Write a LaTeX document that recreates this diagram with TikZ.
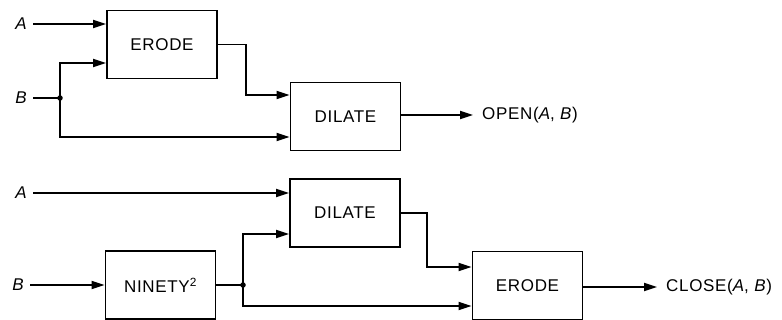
\documentclass[tikz,border=0pt]{standalone}
\usepackage{fontspec}
\setmainfont{Liberation Sans}
\usetikzlibrary{arrows.meta,calc}
\newcommand{\blkfont}{\fontsize{17}{20}\selectfont\addfontfeature{LetterSpace=4}}
\tikzset{
  blk/.style={draw, line width=1.9pt, minimum width=110pt, minimum height=68pt, inner sep=0pt, font=\blkfont},
  inlab/.style={anchor=east, inner xsep=6pt, inner ysep=0pt, font=\fontsize{17}{20}\selectfont\itshape},
  outlab/.style={anchor=west, inner xsep=9pt, inner ysep=0pt, font=\blkfont},
  wire/.style={line width=1.9pt},
  arr/.style={wire, -{Triangle[length=13pt,width=8pt]}},
  jdot/.style={circle, fill, inner sep=0pt, minimum size=5.5pt}
}
\begin{document}
\begin{tikzpicture}[x=1pt,y=-1pt]
\useasboundingbox (0,0) rectangle (782,320);
% top diagram
\node[inlab] (a1) at (33,24) {A};
\node[inlab] (b1) at (33,98) {B};
\node[blk] (erode1) at (162,44.5) {ERODE};
\node[blk] (dilate1) at (345.5,116.5) {DILATE};
\node[outlab] (open) at (473,115) {OPEN(\textit{A}, \textit{B})};
\coordinate (j1) at (60,98);
\node[jdot] (d1) at (j1) {};
\draw[arr] (a1.east) -- (erode1.west |- a1);
\draw[wire] (b1.east) -- (j1);
\draw[arr] (j1) |- ($(erode1.west)+(0,18.5)$);
\draw[arr] (j1) |- ($(dilate1.west)+(0,20.5)$);
\draw[arr] (erode1.east) -- ++(28,0) |- ($(dilate1.west)+(0,-21.5)$);
\draw[arr] (dilate1.east |- open) -- (open.west);
% bottom diagram
\node[inlab] (a2) at (33,193) {A};
\node[inlab] (b2) at (30,285) {B};
\node[blk] (dilate2) at (345,213) {DILATE};
\node[blk] (ninety) at (160.5,285) {NINETY\textsuperscript{2}};
\node[blk] (erode2) at (527.5,285.5) {ERODE};
\node[outlab] (close) at (657,287) {CLOSE(\textit{A}, \textit{B})};
\coordinate (j2) at (243,285);
\node[jdot] (d2) at (j2) {};
\draw[arr] (a2.east) -- (dilate2.west |- a2);
\draw[arr] (b2.east) -- (ninety.west |- b2);
\draw[wire] (ninety.east |- j2) -- (j2);
\draw[arr] (j2) |- ($(dilate2.west)+(0,21)$);
\draw[arr] (j2) |- ($(erode2.west)+(0,20.5)$);
\draw[arr] (dilate2.east) -- ++(26,0) |- ($(erode2.west)+(0,-18.5)$);
\draw[arr] (erode2.east |- close) -- (close.west);
\end{tikzpicture}
\end{document}
